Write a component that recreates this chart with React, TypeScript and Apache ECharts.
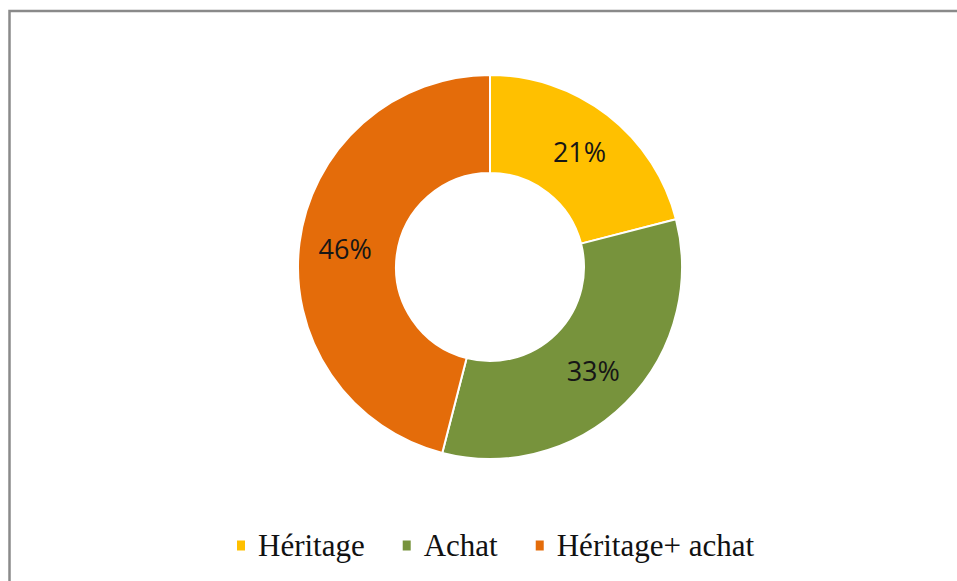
import React, { useEffect, useRef } from "react";
import * as echarts from "echarts";

const categories = ["Héritage", "Achat", "Héritage+ achat"];
const values = [21, 33, 46];
const colors = ["#FFC000", "#77933C", "#E46C0A"];

export default function App() {
  const ref = useRef<HTMLDivElement>(null);
  useEffect(() => {
    if (!ref.current) return;
    const chart = echarts.init(ref.current, null, { renderer: "svg" });
    chart.setOption({
      animation: false,
      backgroundColor: "#ffffff",
      graphic: [
        {
          type: "rect",
          shape: { x: 9.5, y: 11, width: 1100, height: 1000 },
          style: { fill: "none", stroke: "#8a8a8a", lineWidth: 2.5 },
          silent: true,
        },
      ],
      legend: {
        data: categories,
        left: 230,
        top: 525,
        icon: "rect",
        itemWidth: 10,
        itemHeight: 12,
        itemGap: 36,
        textStyle: {
          fontFamily: "Liberation Serif",
          fontSize: 31,
          color: "#111111",
          padding: [0, 0, 0, 7],
        },
      },
      series: [
        {
          type: "pie",
          center: [490, 267],
          radius: [94, 192],
          startAngle: 90,
          clockwise: true,
          avoidLabelOverlap: false,
          itemStyle: { borderColor: "#ffffff", borderWidth: 2 },
          label: {
            show: true,
            position: "inside",
            formatter: "{c}%",
            fontFamily: "Open Sans",
            fontSize: 27,
            color: "#161616",
          },
          labelLine: { show: false },
          emphasis: { disabled: true },
          data: categories.map((name, i) => ({
            name,
            value: values[i],
            itemStyle: { color: colors[i] },
          })),
        },
      ],
    });
    return () => chart.dispose();
  }, []);
  return (
    <div
      ref={ref}
      style={{ position: "absolute", left: 0, top: 0, width: 957, height: 581 }}
    />
  );
}
